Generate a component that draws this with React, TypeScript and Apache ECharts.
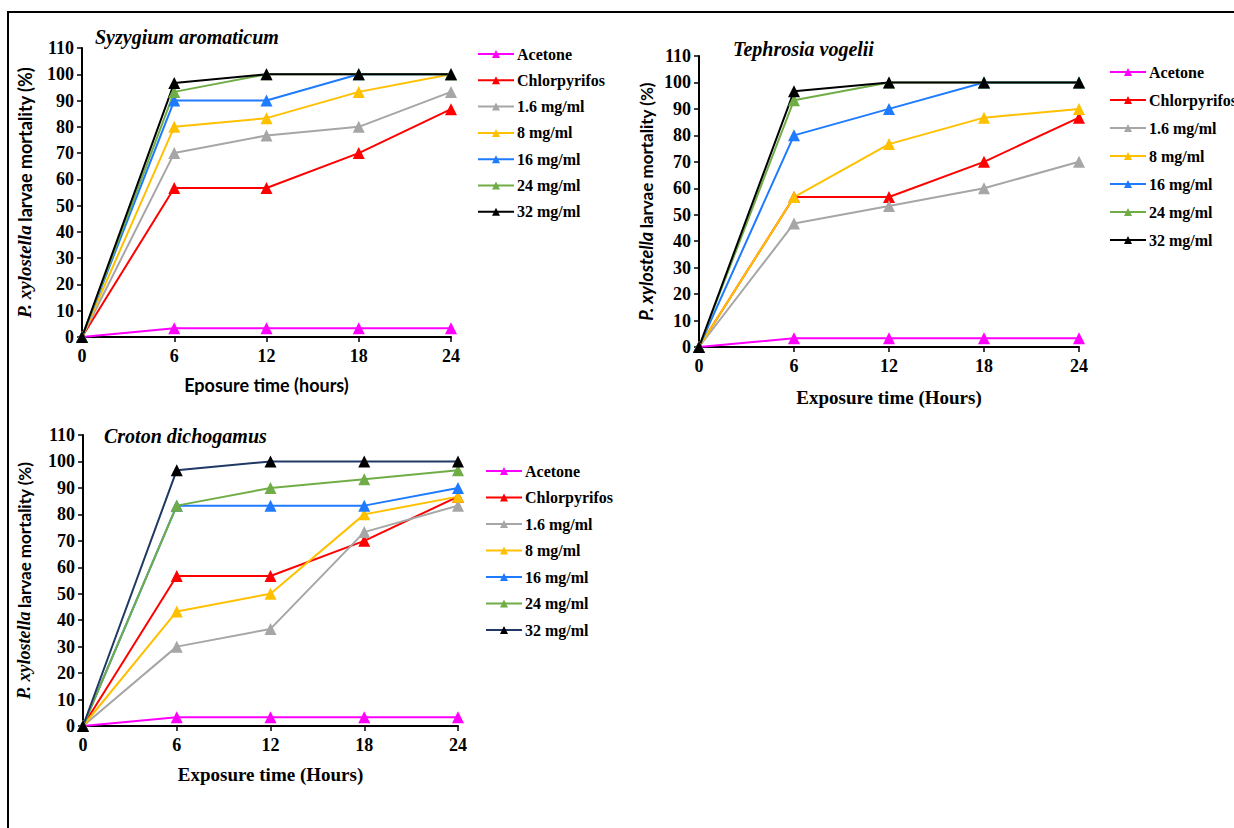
import React, { useEffect, useRef } from "react";
import * as echarts from "echarts";

const hours = [0, 6, 12, 18, 24];
const seriesNames = ["Acetone", "Chlorpyrifos", "1.6 mg/ml", "8 mg/ml", "16 mg/ml", "24 mg/ml", "32 mg/ml"];
const yTicks = [0, 10, 20, 30, 40, 50, 60, 70, 80, 90, 100, 110];

const panelTitles = ["Syzygium aromaticum", "Tephrosia vogelii", "Croton dichogamus"];
const xAxisNames = ["Eposure time (hours)", "Exposure time (Hours)", "Exposure time (Hours)"];

// Syzygium aromaticum
const syzygium = [
  [0, 3.3, 3.3, 3.3, 3.3],
  [0, 56.7, 56.7, 70, 86.7],
  [0, 70, 76.7, 80, 93.3],
  [0, 80, 83.3, 93.3, 100],
  [0, 90, 90, 100, 100],
  [0, 93.3, 100, 100, 100],
  [0, 96.7, 100, 100, 100],
];
// Tephrosia vogelii
const tephrosia = [
  [0, 3.3, 3.3, 3.3, 3.3],
  [0, 56.7, 56.7, 70, 86.7],
  [0, 46.7, 53.3, 60, 70],
  [0, 56.7, 76.7, 86.7, 90],
  [0, 80, 90, 100, 100],
  [0, 93.3, 100, 100, 100],
  [0, 96.7, 100, 100, 100],
];
// Croton dichogamus
const croton = [
  [0, 3.3, 3.3, 3.3, 3.3],
  [0, 56.7, 56.7, 70, 86.7],
  [0, 30, 36.7, 73.3, 83.3],
  [0, 43.3, 50, 80, 86.7],
  [0, 83.3, 83.3, 83.3, 90],
  [0, 83.3, 90, 93.3, 96.7],
  [0, 96.7, 100, 100, 100],
];
const panelData = [syzygium, tephrosia, croton];

const colors = ["#FF00FF", "#FF0000", "#A6A6A6", "#FFC000", "#1E7BFF", "#70AD47", "#000000"];
const lastLineColors = ["#000000", "#000000", "#1F3864"];

const grids = [
  { left: 82, top: 48, width: 369, height: 289 },
  { left: 699, top: 56, width: 380, height: 291 },
  { left: 83, top: 435, width: 375, height: 291 },
];
const titlePos = [
  { left: 95, top: 27 },
  { left: 733, top: 39 },
  { left: 104, top: 426 },
];
const legendPos = [
  { left: 477, top: 46, gap: 10.3 },
  { left: 1109, top: 64, gap: 12 },
  { left: 485, top: 463, gap: 10.5 },
];
const xNameGap = [39, 41, 39];
const yNameGap = [48, 44, 50];

const serif = "Liberation Serif";
const sans = "Lato";

export default function App() {
  const ref = useRef<HTMLDivElement>(null);
  useEffect(() => {
    if (!ref.current) return;
    const chart = echarts.init(ref.current, undefined, { renderer: "svg" });

    const series: any[] = [];
    panelData.forEach((pd, p) => {
      pd.forEach((vals, i) => {
        series.push({
          type: "line",
          name: `${seriesNames[i]}#${p}`,
          xAxisIndex: p,
          yAxisIndex: p,
          data: hours.map((h, k) => [h, vals[k]]),
          symbol: "triangle",
          symbolSize: 12,
          lineStyle: { width: 2, color: i === 6 ? lastLineColors[p] : colors[i] },
          itemStyle: { color: colors[i] },
          color: colors[i],
        });
      });
    });

    const option: any = {
      animation: false,
      backgroundColor: "#ffffff",
      title: panelTitles.map((t, p) => ({
        text: t,
        left: titlePos[p].left,
        top: titlePos[p].top,
        padding: 0,
        textStyle: { fontFamily: serif, fontStyle: "italic", fontWeight: "bold", fontSize: 20, color: "#000" },
      })),
      grid: grids.map((g) => ({ ...g, containLabel: false })),
      xAxis: grids.map((_, p) => ({
        type: "value",
        gridIndex: p,
        min: 0,
        max: 24,
        interval: 6,
        name: xAxisNames[p],
        nameLocation: "middle",
        nameGap: xNameGap[p],
        nameTextStyle: {
          fontFamily: p === 0 ? sans : serif,
          fontWeight: "bold",
          fontSize: p === 0 ? 18 : 19,
          color: "#000",
        },
        axisLine: { show: true, lineStyle: { color: "#000", width: 2 } },
        axisTick: { show: true, inside: false, length: 5, lineStyle: { color: "#000", width: 1.5 } },
        axisLabel: { fontFamily: serif, fontWeight: "bold", fontSize: 18, color: "#000", margin: 10 },
        splitLine: { show: false },
      })),
      yAxis: grids.map((_, p) => ({
        type: "value",
        gridIndex: p,
        min: 0,
        max: 110,
        interval: 10,
        name: "{i|P. xylostella} {b|larvae mortality (%)}",
        nameLocation: "middle",
        nameRotate: 90,
        nameGap: yNameGap[p],
        nameTextStyle: {
          color: "#000",
          rich: {
            i: {
              fontFamily: p === 1 ? sans : serif,
              fontStyle: "italic",
              fontWeight: "bold",
              fontSize: p === 0 ? 19 : 18,
              color: "#000",
            },
            b: { fontFamily: sans, fontWeight: "bold", fontSize: p === 0 ? 18 : 17, color: "#000" },
          },
        },
        axisLine: { show: true, lineStyle: { color: "#000", width: 2 } },
        axisTick: { show: true, inside: false, length: 5, lineStyle: { color: "#000", width: 1.5 } },
        axisLabel: {
          fontFamily: serif,
          fontWeight: "bold",
          fontSize: 18,
          color: "#000",
          margin: 8,
          formatter: (v: number) => (yTicks.includes(v) ? String(v) : ""),
        },
        splitLine: { show: false },
      })),
      legend: legendPos.map((lp, p) => ({
        data: seriesNames.map((n) => `${n}#${p}`),
        orient: "vertical",
        left: lp.left,
        top: lp.top,
        padding: 0,
        itemGap: lp.gap,
        itemWidth: 36,
        itemHeight: 10,
        selectedMode: false,
        formatter: (name: string) => name.split("#")[0],
        textStyle: { fontFamily: serif, fontWeight: "bold", fontSize: 16, color: "#000", padding: [0, 0, 0, -2] },
      })),
      graphic: [
        {
          type: "rect",
          shape: { x: 8, y: 12, width: 1400, height: 1000 },
          style: { fill: "none", stroke: "#000", lineWidth: 2 },
          silent: true,
        },
      ],
      series,
    };
    chart.setOption(option);
    return () => chart.dispose();
  }, []);
  return (
    <div
      ref={ref}
      style={{ position: "fixed", left: 0, top: 0, width: 1234, height: 828, background: "#fff" }}
    />
  );
}
